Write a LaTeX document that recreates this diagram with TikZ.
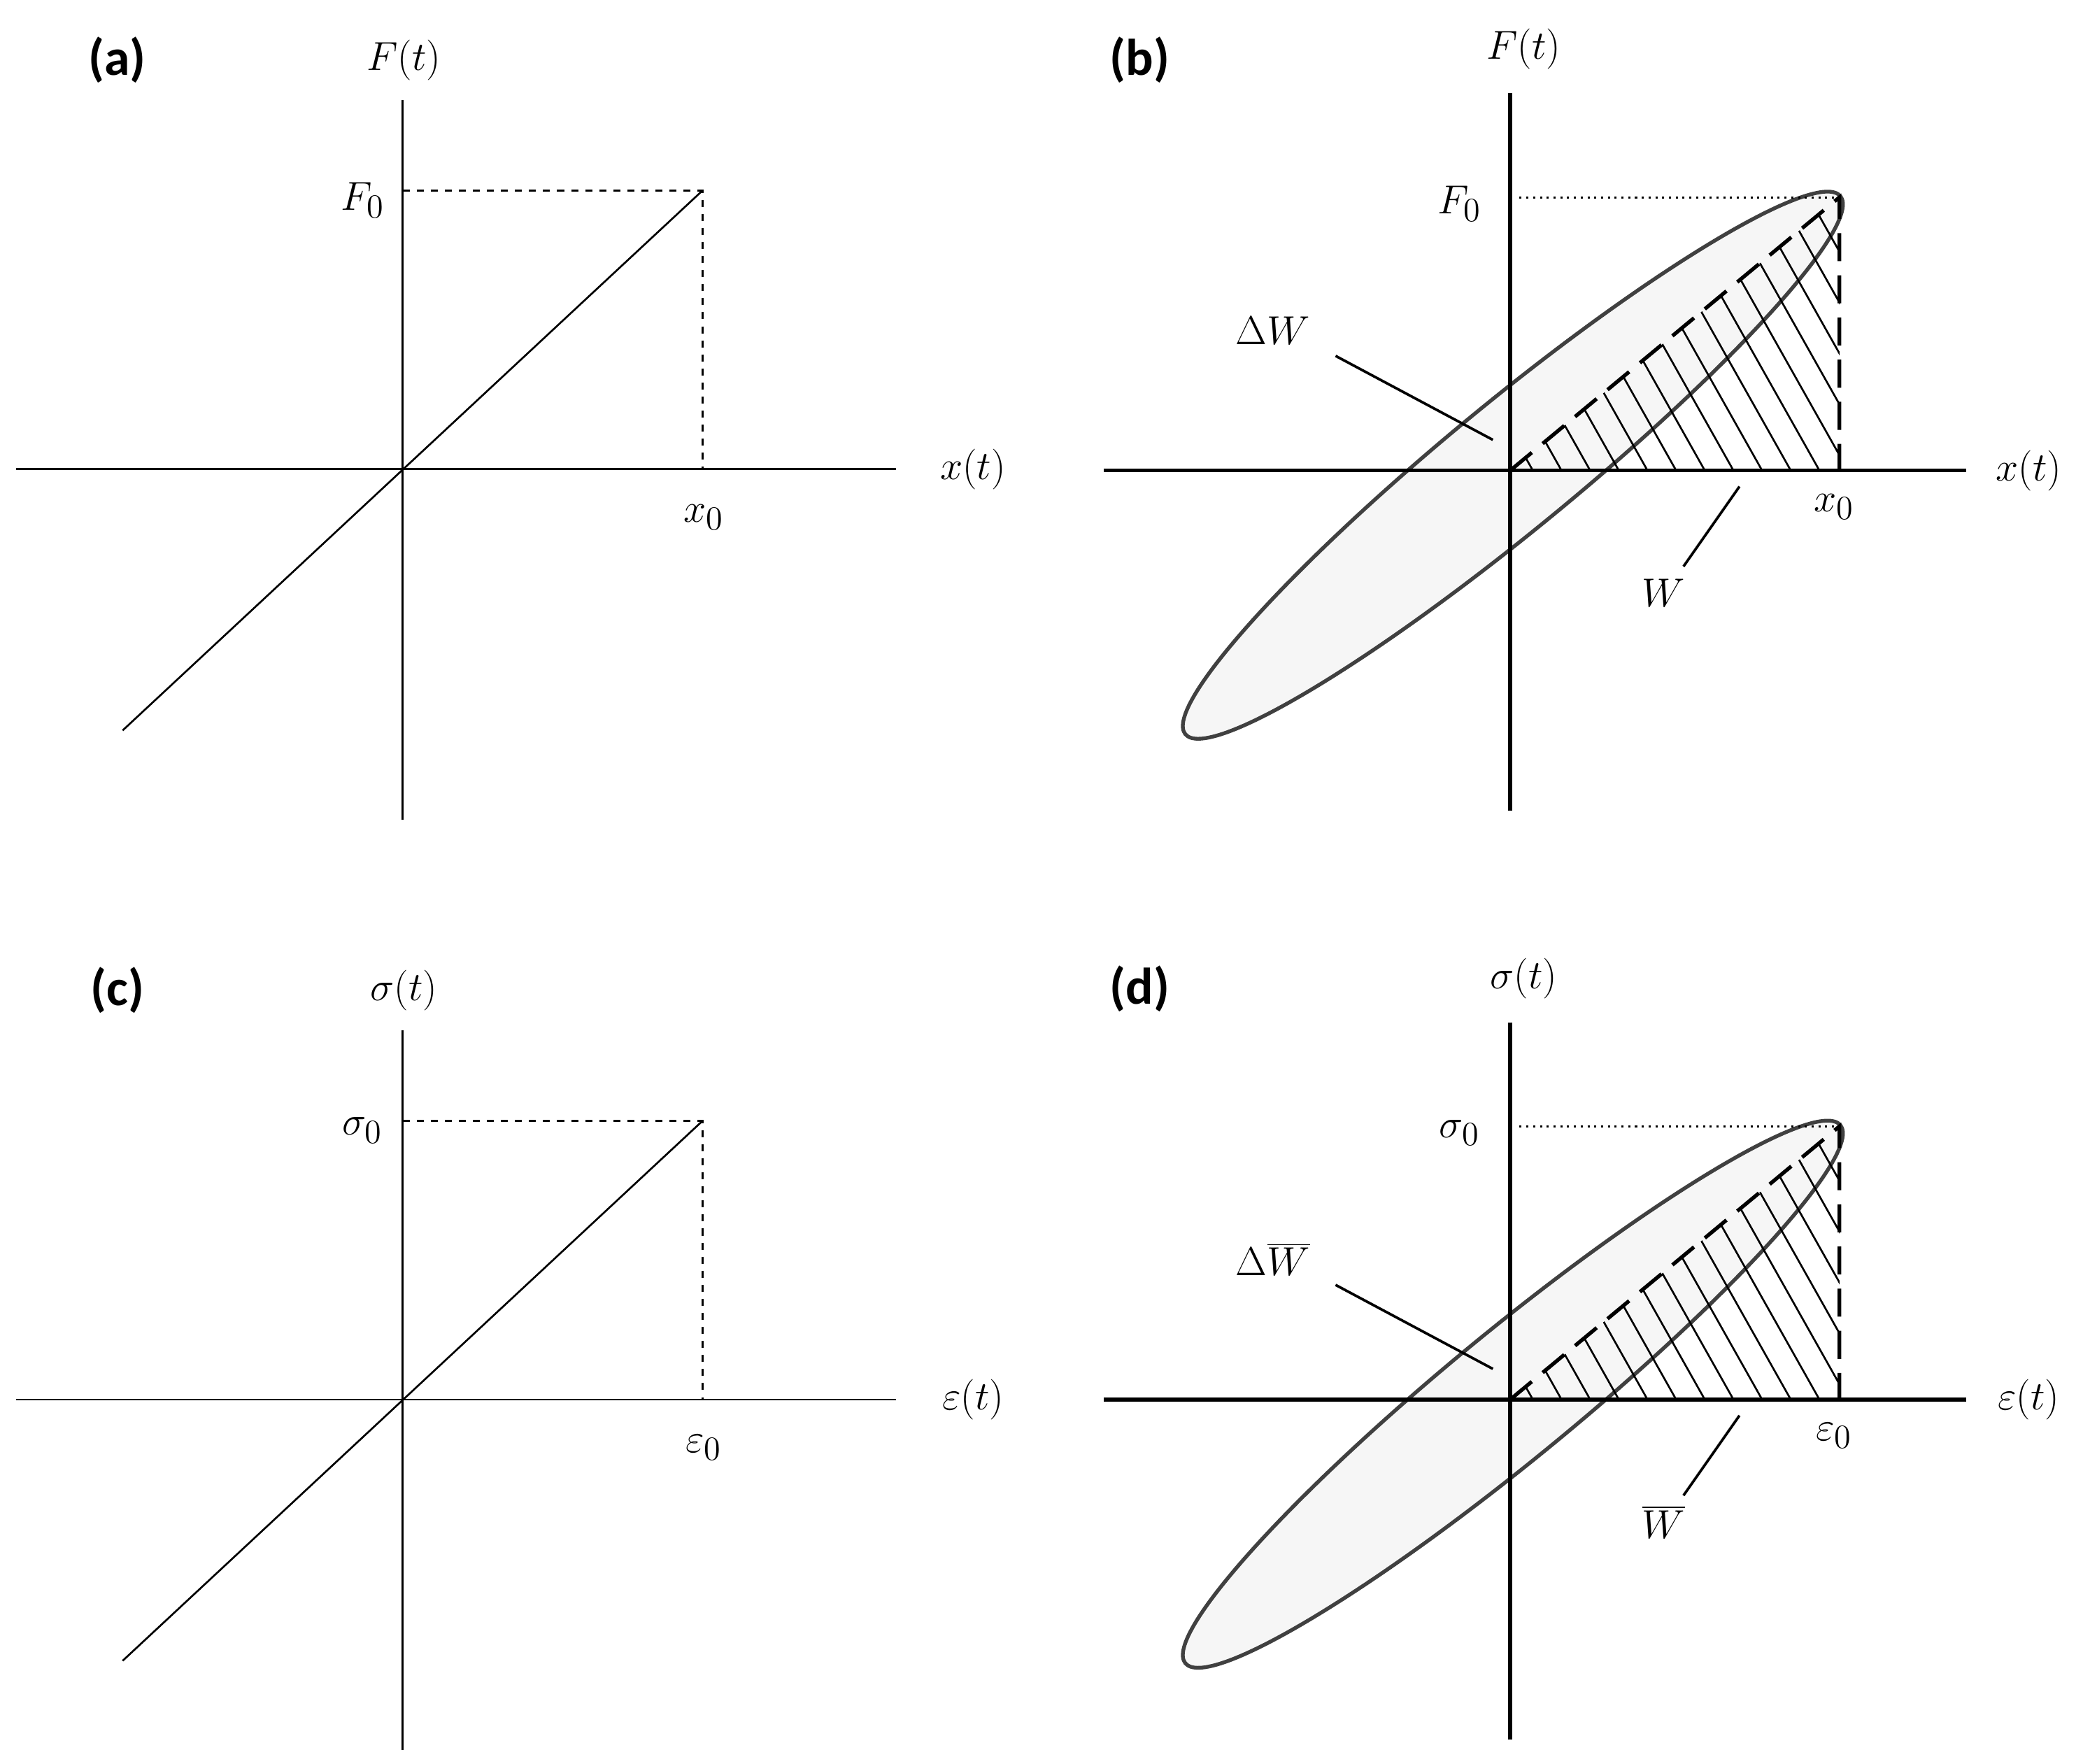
\documentclass[tikz,border=0pt]{standalone}
\usepackage{fontspec}
\newfontfamily\lab{Carlito}
\begin{document}
\begin{tikzpicture}[x=0.02cm,y=-0.02cm,
  ax/.style={line width=0.8pt},
  axb/.style={line width=1.6pt},
  lbl/.style={font=\fontsize{19}{23}\selectfont},
  pl/.style={font=\lab\bfseries\fontsize{22}{26}\selectfont},
  ell/.style={draw=black!75,fill=gray!7,line width=1.6pt},
  pt/.style={line width=1.1pt}]
\useasboundingbox (0,0) rectangle (1568,1323);
% ---- panel a / c (linear)
\foreach \dy/\lt/\ys/\yz/\xs/\xz in {0/a/F(t)/F_0/x(t)/x_0, 698/c/\sigma(t)/\sigma_0/\varepsilon(t)/\varepsilon_0}{
\begin{scope}[yshift=-\dy*0.02cm]
\node[pl] (p\lt) at (88,45) {(\lt)};
\coordinate (o\lt) at (302,352);
\coordinate (yt\lt) at (302,75); \coordinate (yb\lt) at (302,615);
\coordinate (xl\lt) at (12,352); \coordinate (xr\lt) at (672,352);
\coordinate (d1\lt) at (92,548); \coordinate (d2\lt) at (527,143);
\coordinate (f\lt) at (302,143); \coordinate (g\lt) at (527,352);
\draw[ax] (yt\lt) -- (yb\lt);
\draw[ax] (xl\lt) -- (xr\lt);
\draw[ax] (d1\lt) -- (d2\lt);
\draw[ax,dashed] (f\lt) -- (d2\lt) -- (g\lt);
\node[lbl] (ya\lt) at (303,45) {$\ys$};
\node[lbl] (yz\lt) at (272,150) {$\yz$};
\node[lbl] (xa\lt) at (730,352) {$\xs$};
\node[lbl] (xz\lt) at (528,388) {$\xz$};
\end{scope}}
% ---- panel b / d (hysteresis)
\foreach \dy/\lt/\ys/\yz/\xs/\xz/\dw/\w in {0/b/F(t)/F_0/x(t)/x_0/\Delta W/W, 697/d/\sigma(t)/\sigma_0/\varepsilon(t)/\varepsilon_0/\Delta\overline{W}/\overline{W}}{
\begin{scope}[yshift=-\dy*0.02cm]
\node[pl] (p\lt) at (855,45) {(\lt)};
\coordinate (o\lt) at (1133,353);
\coordinate (tip\lt) at (1380,148);
\coordinate (bot\lt) at (1380,353);
\coordinate (f\lt) at (1140,148);
\draw[ell,rotate around={39.4:(1135,349)}] (1135,349) ellipse [x radius=318,y radius=48];
\begin{scope}
\clip (o\lt) -- (tip\lt) -- (bot\lt) -- cycle;
\foreach \i in {0,...,20}{
  \draw[line width=0.8pt] (1030+\i*21.5,140) -- +(120,213);
}
\end{scope}
\draw[axb] (1133,70) -- (1133,608);
\draw[axb] (828,353) -- (1475,353);
\draw[line width=1.6pt,dash pattern=on 12pt off 6pt] (o\lt) -- (tip\lt) -- (bot\lt);
\draw[line width=0.9pt,dotted] (f\lt) -- (tip\lt);
\node[lbl] (ya\lt) at (1143,37) {$\ys$};
\node[lbl] (yz\lt) at (1095,153) {$\yz$};
\node[lbl] (xa\lt) at (1522,353) {$\xs$};
\node[lbl,fill=white,inner ysep=1pt] (xz\lt) at (1376,380) {$\xz$};
\node[lbl] (dw\lt) at (955,248) {$\dw$};
\node[lbl] (w\lt) at (1248,445) {$\w$};
\coordinate (dwa\lt) at (1002,267); \coordinate (dwb\lt) at (1120,330);
\coordinate (wa\lt) at (1263,425); \coordinate (wb\lt) at (1305,365);
\draw[pt] (dwa\lt) -- (dwb\lt);
\draw[pt] (wa\lt) -- (wb\lt);
\end{scope}}
\end{tikzpicture}
\end{document}
